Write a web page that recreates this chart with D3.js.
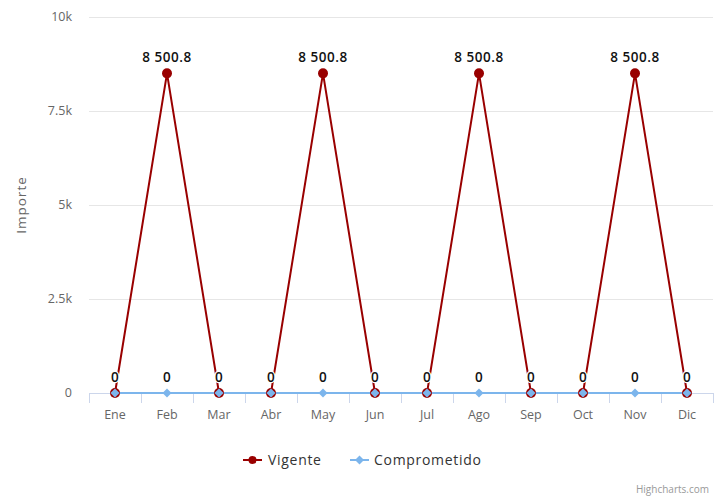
<html>
<head>
<meta charset="utf-8">
<script src="https://d3js.org/d3.v7.min.js"></script>
<style>
body { margin: 0; background: #fff; font-family: "Open Sans", "Noto Sans", "DejaVu Sans", sans-serif; }
</style>
</head>
<body>
<div id="chart"></div>
<script>
// chart data
var months = ["Ene", "Feb", "Mar", "Abr", "May", "Jun", "Jul", "Ago", "Sep", "Oct", "Nov", "Dic"];
var vigente = [0, 8500.8, 0, 0, 8500.8, 0, 0, 8500.8, 0, 0, 8500.8, 0];
var comprometido = [0, 0, 0, 0, 0, 0, 0, 0, 0, 0, 0, 0];
var yTicks = [0, 2500, 5000, 7500, 10000];
var yTickLabels = ["0", "2.5k", "5k", "7.5k", "10k"];

var width = 719, height = 498;
// note: "top" is reserved on window, so plot edges get their own names
var plotLeft = 89, plotRight = 713, plotTop = 17, plotBottom = 393;

var svg = d3.select("#chart").append("svg")
	.attr("width", width).attr("height", height);

var x = d3.scaleBand().domain(months).range([plotLeft, plotRight]);
var y = d3.scaleLinear().domain([0, 10000]).range([plotBottom, plotTop]);

// grid
svg.append("g").selectAll("line").data(yTicks).join("line")
	.attr("x1", plotLeft).attr("x2", plotRight)
	.attr("y1", d => y(d) + 0.5).attr("y2", d => y(d) + 0.5)
	.attr("stroke", "#e6e6e6");

svg.append("g").selectAll("text").data(yTicks).join("text")
	.attr("x", 72).attr("y", d => y(d) + 4)
	.attr("text-anchor", "end")
	.attr("font-size", 12.5).attr("fill", "#666")
	.text((d, i) => yTickLabels[i]);

svg.append("text")
	.attr("transform", "translate(26," + ((plotTop + plotBottom) / 2) + ") rotate(-90)")
	.attr("text-anchor", "middle")
	.attr("font-size", 13.5).attr("letter-spacing", 1).attr("fill", "#666")
	.text("Importe");

// x axis
svg.append("line")
	.attr("x1", plotLeft).attr("x2", plotRight)
	.attr("y1", plotBottom + 0.5).attr("y2", plotBottom + 0.5)
	.attr("stroke", "#ccd6eb");

var edges = months.map(m => x(m)).concat([plotRight]);
svg.append("g").selectAll("line").data(edges).join("line")
	.attr("x1", d => Math.round(d) + 0.5).attr("x2", d => Math.round(d) + 0.5)
	.attr("y1", plotBottom).attr("y2", plotBottom + 10)
	.attr("stroke", "#ccd6eb");

svg.append("g").selectAll("text").data(months).join("text")
	.attr("x", d => x(d) + x.bandwidth() / 2).attr("y", plotBottom + 26)
	.attr("text-anchor", "middle")
	.attr("font-size", 12.5).attr("fill", "#666")
	.text(d => d);

var cx = (d, i) => x(months[i]) + x.bandwidth() / 2;
var line = d3.line().x((d, i) => cx(d, i)).y(d => y(d));

var red = "#990000", blue = "#7cb5ec";

svg.append("path").datum(vigente)
	.attr("d", line).attr("fill", "none")
	.attr("stroke", red).attr("stroke-width", 2);

svg.append("path").datum(comprometido)
	.attr("d", line).attr("fill", "none")
	.attr("stroke", blue).attr("stroke-width", 2);

svg.append("g").selectAll("circle").data(vigente).join("circle")
	.attr("cx", cx).attr("cy", d => y(d)).attr("r", 5)
	.attr("fill", red);

var diamond = d3.symbol().type(d3.symbolDiamond2).size(52);
svg.append("g").selectAll("path").data(comprometido).join("path")
	.attr("transform", (d, i) => "translate(" + cx(d, i) + "," + y(d) + ")")
	.attr("d", diamond).attr("fill", blue);

// data labels
var fmt = d => d === 0 ? "0" : d3.format(",.1f")(d).replace(",", " ");
function labels(data) {
	svg.append("g").selectAll("text").data(data).join("text")
		.attr("x", cx).attr("y", d => y(d) - 11)
		.attr("text-anchor", "middle")
		.attr("font-size", 13.5).attr("font-weight", 600)
		.attr("letter-spacing", 0.5)
		.attr("fill", "#111")
		.attr("stroke", "#fff").attr("stroke-width", 2)
		.attr("paint-order", "stroke")
		.attr("stroke-linejoin", "round")
		.text(fmt);
}
labels(vigente);
labels(comprometido);

// legend
var lg = svg.append("g").attr("transform", "translate(0,460)");
lg.append("line").attr("x1", 243).attr("x2", 262).attr("y1", 0).attr("y2", 0)
	.attr("stroke", red).attr("stroke-width", 2);
lg.append("circle").attr("cx", 252.5).attr("cy", 0).attr("r", 4).attr("fill", red);
lg.append("text").attr("x", 268).attr("y", 5)
	.attr("font-size", 14).attr("letter-spacing", 0.7).attr("fill", "#333").text("Vigente");

lg.append("line").attr("x1", 350).attr("x2", 369).attr("y1", 0).attr("y2", 0)
	.attr("stroke", blue).attr("stroke-width", 2);
lg.append("path").attr("transform", "translate(359.5,0)")
	.attr("d", diamond).attr("fill", blue);
lg.append("text").attr("x", 374).attr("y", 5)
	.attr("font-size", 14).attr("letter-spacing", 0.7).attr("fill", "#333").text("Comprometido");

svg.append("text").attr("x", 709).attr("y", 493)
	.attr("text-anchor", "end")
	.attr("font-size", 10).attr("fill", "#999")
	.text("Highcharts.com");
</script>
</body>
</html>
